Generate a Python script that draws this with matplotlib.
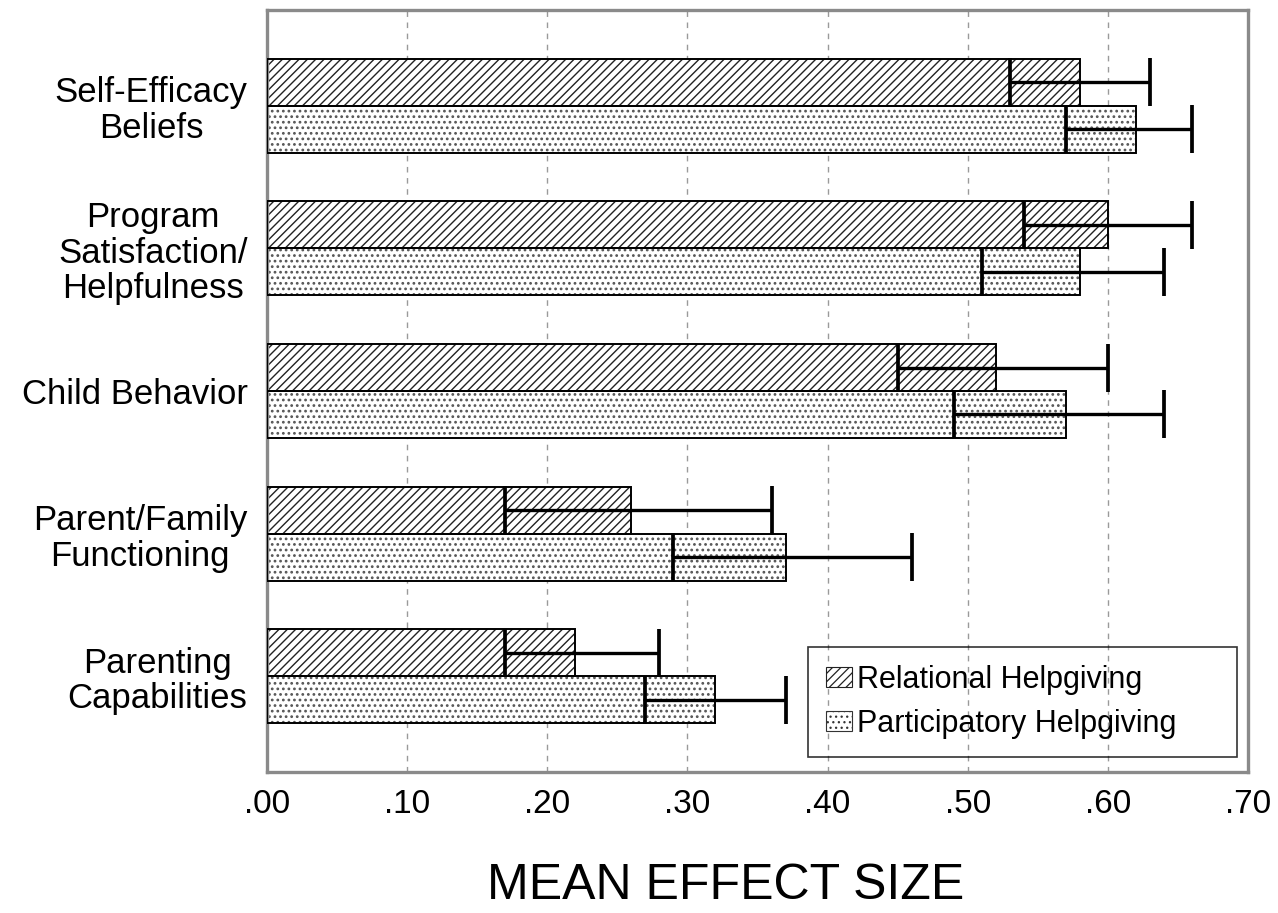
import matplotlib
matplotlib.use('Agg')
import matplotlib.pyplot as plt
import numpy as np
from matplotlib.patches import Patch

plt.rcParams['font.family'] = ['Liberation Sans', 'DejaVu Sans']
plt.rcParams['hatch.linewidth'] = 0.9

categories = ["Self-Efficacy\nBeliefs", "Program\nSatisfaction/\nHelpfulness",
              "Child Behavior", "Parent/Family\nFunctioning", "Parenting\nCapabilities"]
relational_mean = [0.58, 0.60, 0.52, 0.26, 0.22]
relational_low = [0.53, 0.54, 0.45, 0.17, 0.17]
relational_high = [0.63, 0.66, 0.60, 0.36, 0.28]
participatory_mean = [0.62, 0.58, 0.57, 0.37, 0.32]
participatory_low = [0.57, 0.51, 0.49, 0.29, 0.27]
participatory_high = [0.66, 0.64, 0.64, 0.46, 0.37]
xticks = [0.0, 0.1, 0.2, 0.3, 0.4, 0.5, 0.6, 0.7]
xtick_labels = ['.00', '.10', '.20', '.30', '.40', '.50', '.60', '.70']
series_names = ['Relational Helpgiving', 'Participatory Helpgiving']

W, H = 1278, 913
fig = plt.figure(figsize=(W / 100, H / 100), dpi=100)
ax = fig.add_axes([267 / W, 1 - 772 / H, 981 / W, 762 / H])

y = np.arange(len(categories))
h = 0.329
rel = np.array(relational_mean)
par = np.array(participatory_mean)


def set_hlw(container, lw):
    for p in container:
        if hasattr(p, 'set_hatch_linewidth'):
            p.set_hatch_linewidth(lw)


# gridlines
for xv in xticks[1:-1]:
    ax.axvline(xv, color='#9a9a9a', lw=1.0, ls=(0, (4, 4)), zorder=0)

# relational bars
b1 = ax.barh(y - h / 2, rel, height=h, color='white', edgecolor='#222222',
             hatch='////', linewidth=0, zorder=2)
set_hlw(b1, 1.0)
ax.barh(y - h / 2, rel, height=h, fill=False, edgecolor='black',
        linewidth=1.4, zorder=3)
# participatory bars
b2 = ax.barh(y + h / 2, par, height=h, color='white', edgecolor='#555555',
             hatch='...', linewidth=0, zorder=2)
set_hlw(b2, 1.2)
ax.barh(y + h / 2, par, height=h, fill=False, edgecolor='black',
        linewidth=1.4, zorder=3)

# confidence intervals
ax.errorbar(rel, y - h / 2,
            xerr=[rel - np.array(relational_low), np.array(relational_high) - rel],
            fmt='none', ecolor='black', elinewidth=2.4, capsize=17, capthick=2.7, zorder=4)
ax.errorbar(par, y + h / 2,
            xerr=[par - np.array(participatory_low), np.array(participatory_high) - par],
            fmt='none', ecolor='black', elinewidth=2.4, capsize=17, capthick=2.7, zorder=4)

ax.set_xlim(0, 0.7)
ax.set_ylim(len(categories) - 1 + 0.67, -0.67)
ax.set_xticks(xticks)
ax.set_xticklabels(xtick_labels, fontsize=24)
ax.set_yticks(y)
ax.set_yticklabels(categories, fontsize=25)
for t in ax.get_yticklabels():
    t.set_multialignment('center')
    t.set_linespacing(1.1)
ax.tick_params(axis='y', length=0, pad=14)
ax.tick_params(axis='x', length=0, pad=12)
ax.set_xlabel('MEAN EFFECT SIZE', fontsize=36)
ax.xaxis.set_label_coords(0.467, -0.12)

for s in ax.spines.values():
    s.set_color('#8a8a8a')
    s.set_linewidth(2.4)

handles = [Patch(facecolor='white', edgecolor='#222222', hatch='////', linewidth=0.8),
           Patch(facecolor='white', edgecolor='#333333', hatch='...', linewidth=0.8)]
leg = ax.legend(handles, series_names, loc='lower left',
                bbox_to_anchor=(0.5515, 0.0197, 0.4373, 0.1365), mode='expand',
                borderaxespad=0, fontsize=22, frameon=True, fancybox=False,
                handlelength=0.85, handleheight=0.6, handletextpad=0.15,
                labelspacing=0.45, borderpad=0.6)
frame = leg.get_frame()
frame.set_facecolor('none')
frame.set_edgecolor('black')
frame.set_linewidth(1.2)
leg.set_zorder(5)

fig.savefig('out.png', dpi=100)
